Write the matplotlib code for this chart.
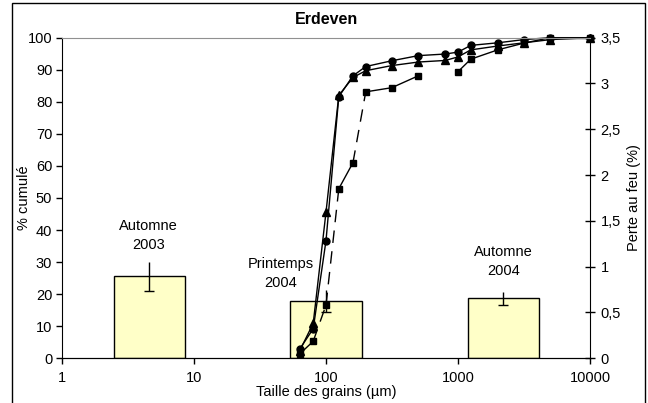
import numpy as np
import matplotlib
matplotlib.use('Agg')
import matplotlib.pyplot as plt
from matplotlib.ticker import FuncFormatter, FixedLocator, NullLocator
from matplotlib.patches import Rectangle

plt.rcParams['font.family'] = ['Liberation Sans', 'DejaVu Sans']
plt.rcParams['font.size'] = 10.5

# sieve sizes (µm) and cumulative percentages for the three campaigns
sizes = [63, 80, 100, 125, 160, 200, 315, 500, 800, 1000, 1250, 2000, 3150, 5000, 10000]
cum_circles = [2.8, 9.2, 36.7, 81.6, 88.1, 91.0, 92.8, 94.4, 94.9, 95.5, 97.6, 98.4, 99.4, 100, 100]
cum_triangles = [2.2, 10.9, 45.6, 82.0, 87.6, 89.7, 91.3, 92.4, 92.9, 94.0, 96.2, 97.4, 98.4, 99.4, 100]
cum_squares = [1.3, 5.3, 16.6, 52.9, 61.0, 83.1, 84.4, 88.1, np.nan, 89.4, 93.3, 96.2, 98.3, 100, 100]
# line style of each link between consecutive square points
square_links = ['-', '--', '--', '-', '--', '-', '-', None, None, '-', '-', '-', '-', '-']

# loss on ignition (%) per season
seasons = ['Automne\n2003', 'Printemps\n2004', 'Automne\n2004']
loi_pos = [4.6, 100, 2200]
loi = [0.895, 0.63, 0.655]
loi_err = [0.16, 0.12, 0.07]
label_pos = [(4.5, 1.34), (45.6, 0.93), (2200, 1.055)]

fig = plt.figure(figsize=(6.48, 4.03), dpi=100)
ax = fig.add_axes([0.0957, 0.111, 0.8148, 0.7955])
ax2 = ax.twinx()
ax.set_zorder(ax2.get_zorder() + 1)
ax.patch.set_visible(False)

# bars, half a decade wide on the log axis
half = 10 ** 0.27
lefts = [c / half for c in loi_pos]
widths = [c * half - c / half for c in loi_pos]
ax2.bar(lefts, loi, width=widths, align='edge', color='#ffffc8',
        edgecolor='black', linewidth=1)
_, caps, _ = ax2.errorbar(loi_pos, loi, yerr=loi_err, fmt='none', ecolor='black',
                          elinewidth=1, capsize=3.5, capthick=1)
caps[1].set_visible(False)
for (x, y), s in zip(label_pos, seasons):
    ax2.text(x, y, s, ha='center', va='center', linespacing=1.45)

ax.plot(sizes, cum_circles, '-o', color='black', lw=1, ms=5, clip_on=False)
ax.plot(sizes, cum_triangles, '-^', color='black', lw=1, ms=5.5, clip_on=False)
for i, st in enumerate(square_links):
    if st is None:
        continue
    seg = ax.plot(sizes[i:i + 2], cum_squares[i:i + 2], color='black', lw=1, linestyle=st)
    if st == '--':
        seg[0].set_dashes((9, 6))
ax.plot(sizes, cum_squares, 's', color='black', ms=5, clip_on=False)

ax.set_xscale('log')
ax.set_xlim(1, 10000)
ax.set_ylim(0, 100)
ax2.set_ylim(0, 3.5)
ax.xaxis.set_major_locator(FixedLocator([1, 10, 100, 1000, 10000]))
ax.xaxis.set_minor_locator(NullLocator())
ax.xaxis.set_major_formatter(FuncFormatter(lambda v, p: '%d' % v))
ax.set_yticks(np.arange(0, 101, 10))
ax2.set_yticks(np.arange(0, 3.51, 0.5))
ax2.yaxis.set_major_formatter(FuncFormatter(lambda v, p: ('%g' % v).replace('.', ',')))

ax.tick_params(axis='y', direction='out', length=4, width=1, pad=3)
ax.tick_params(axis='x', direction='out', length=4, width=1, pad=5)
ax2.tick_params(axis='y', direction='inout', length=7, width=1, pad=4)

for a in (ax, ax2):
    a.spines['top'].set_color('#909090')
    a.spines['left'].set_visible(a is ax)
    a.spines['right'].set_visible(a is ax2)
ax2.spines['top'].set_visible(False)

ax.set_title('Erdeven', fontweight='bold', fontsize=11.5, pad=10)
ax.set_xlabel('Taille des grains (µm)', labelpad=0)
ax.set_ylabel('% cumulé')
ax.yaxis.set_label_coords(-0.058, 0.5)
ax2.set_ylabel('Perte au feu (%)')
ax2.yaxis.set_label_coords(1.071, 0.5)

fig.patches.append(Rectangle((12 / 648, -0.02), 633 / 648, 1.0126, transform=fig.transFigure,
                             fill=False, edgecolor='black', linewidth=1))

fig.savefig('out.png', dpi=100)
